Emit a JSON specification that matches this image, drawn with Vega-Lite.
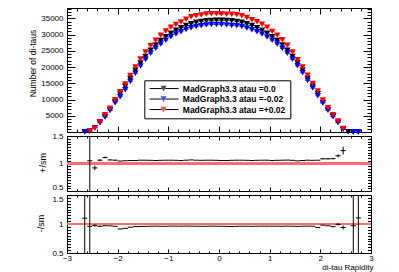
{
  "$schema": "https://vega.github.io/schema/vega-lite/v6.json",
  "background": "white",
  "padding": {"left": 27, "top": 7, "right": 2, "bottom": 2},
  "bounds": "flush",
  "spacing": 4,
  "config": {
    "view": {"stroke": "black", "strokeWidth": 1},
    "axis": {"domain": false, "grid": false, "labelFont": "Liberation Sans", "labelFontSize": 8, "labelColor": "#000", "tickColor": "#000", "tickWidth": 1, "titleFont": "Liberation Sans", "titleFontWeight": "normal", "titleColor": "#000", "titleFontSize": 9, "labelFlush": false, "labelOverlap": false}
  },
  "resolve": {"scale": {"color": "independent", "shape": "independent"}},
  "datasets": {
    "counts": [
      {"x":-2.65,"s":"0.0","n":40},{"x":-2.55,"s":"0.0","n":300},{"x":-2.45,"s":"0.0","n":1350},{"x":-2.35,"s":"0.0","n":2980},{"x":-2.25,"s":"0.0","n":4800},{"x":-2.15,"s":"0.0","n":6850},{"x":-2.05,"s":"0.0","n":9400},{"x":-1.95,"s":"0.0","n":11900},{"x":-1.85,"s":"0.0","n":14100},{"x":-1.75,"s":"0.0","n":16500},{"x":-1.65,"s":"0.0","n":19000},{"x":-1.55,"s":"0.0","n":21250},{"x":-1.45,"s":"0.0","n":23300},{"x":-1.35,"s":"0.0","n":25200},{"x":-1.25,"s":"0.0","n":26800},{"x":-1.15,"s":"0.0","n":28200},{"x":-1.05,"s":"0.0","n":29400},{"x":-0.95,"s":"0.0","n":30450},{"x":-0.85,"s":"0.0","n":31350},{"x":-0.75,"s":"0.0","n":32150},{"x":-0.65,"s":"0.0","n":32800},{"x":-0.55,"s":"0.0","n":33350},{"x":-0.45,"s":"0.0","n":33800},{"x":-0.35,"s":"0.0","n":34100},{"x":-0.25,"s":"0.0","n":34300},{"x":-0.15,"s":"0.0","n":34400},{"x":-0.05,"s":"0.0","n":34450},{"x":0.05,"s":"0.0","n":34450},{"x":0.15,"s":"0.0","n":34400},{"x":0.25,"s":"0.0","n":34300},{"x":0.35,"s":"0.0","n":34100},{"x":0.45,"s":"0.0","n":33800},{"x":0.55,"s":"0.0","n":33350},{"x":0.65,"s":"0.0","n":32800},{"x":0.75,"s":"0.0","n":32150},{"x":0.85,"s":"0.0","n":31350},{"x":0.95,"s":"0.0","n":30450},{"x":1.05,"s":"0.0","n":29400},{"x":1.15,"s":"0.0","n":28200},{"x":1.25,"s":"0.0","n":26800},{"x":1.35,"s":"0.0","n":25200},{"x":1.45,"s":"0.0","n":23300},{"x":1.55,"s":"0.0","n":21250},{"x":1.65,"s":"0.0","n":19000},{"x":1.75,"s":"0.0","n":16500},{"x":1.85,"s":"0.0","n":14100},{"x":1.95,"s":"0.0","n":11900},{"x":2.05,"s":"0.0","n":9100},{"x":2.15,"s":"0.0","n":6900},{"x":2.25,"s":"0.0","n":4900},{"x":2.35,"s":"0.0","n":2950},{"x":2.45,"s":"0.0","n":900},{"x":2.55,"s":"0.0","n":100},{"x":2.65,"s":"0.0","n":20},{"x":2.75,"s":"0.0","n":5},
      {"x":-2.65,"s":"-0.02","n":44},{"x":-2.55,"s":"-0.02","n":288},{"x":-2.45,"s":"-0.02","n":1316},{"x":-2.35,"s":"-0.02","n":2861},{"x":-2.25,"s":"-0.02","n":4656},{"x":-2.15,"s":"-0.02","n":6631},{"x":-2.05,"s":"-0.02","n":9024},{"x":-1.95,"s":"-0.02","n":10889},{"x":-1.85,"s":"-0.02","n":13043},{"x":-1.75,"s":"-0.02","n":15593},{"x":-1.65,"s":"-0.02","n":18145},{"x":-1.55,"s":"-0.02","n":20358},{"x":-1.45,"s":"-0.02","n":22368},{"x":-1.35,"s":"-0.02","n":24242},{"x":-1.25,"s":"-0.02","n":25808},{"x":-1.15,"s":"-0.02","n":27100},{"x":-1.05,"s":"-0.02","n":28283},{"x":-0.95,"s":"-0.02","n":29354},{"x":-0.85,"s":"-0.02","n":30190},{"x":-0.75,"s":"-0.02","n":30928},{"x":-0.65,"s":"-0.02","n":31619},{"x":-0.55,"s":"-0.02","n":32116},{"x":-0.45,"s":"-0.02","n":32516},{"x":-0.35,"s":"-0.02","n":32770},{"x":-0.25,"s":"-0.02","n":32997},{"x":-0.15,"s":"-0.02","n":33127},{"x":-0.05,"s":"-0.02","n":33141},{"x":0.05,"s":"-0.02","n":33106},{"x":0.15,"s":"-0.02","n":33024},{"x":0.25,"s":"-0.02","n":32859},{"x":0.35,"s":"-0.02","n":32736},{"x":0.45,"s":"-0.02","n":32516},{"x":0.55,"s":"-0.02","n":32083},{"x":0.65,"s":"-0.02","n":31521},{"x":0.75,"s":"-0.02","n":30928},{"x":0.85,"s":"-0.02","n":30190},{"x":0.95,"s":"-0.02","n":29293},{"x":1.05,"s":"-0.02","n":28312},{"x":1.15,"s":"-0.02","n":27128},{"x":1.25,"s":"-0.02","n":25755},{"x":1.35,"s":"-0.02","n":24268},{"x":1.45,"s":"-0.02","n":22415},{"x":1.55,"s":"-0.02","n":20400},{"x":1.65,"s":"-0.02","n":18278},{"x":1.75,"s":"-0.02","n":15890},{"x":1.85,"s":"-0.02","n":13564},{"x":1.95,"s":"-0.02","n":11186},{"x":2.05,"s":"-0.02","n":8918},{"x":2.15,"s":"-0.02","n":6693},{"x":2.25,"s":"-0.02","n":4680},{"x":2.35,"s":"-0.02","n":2935},{"x":2.45,"s":"-0.02","n":846},{"x":2.65,"s":"-0.02","n":19},{"x":2.75,"s":"-0.02","n":6},
      {"x":-2.55,"s":"+0.02","n":315},{"x":-2.45,"s":"+0.02","n":1242},{"x":-2.35,"s":"+0.02","n":3159},{"x":-2.25,"s":"+0.02","n":5328},{"x":-2.15,"s":"+0.02","n":7295},{"x":-2.05,"s":"+0.02","n":9964},{"x":-1.95,"s":"+0.02","n":12436},{"x":-1.85,"s":"+0.02","n":14805},{"x":-1.75,"s":"+0.02","n":17408},{"x":-1.65,"s":"+0.02","n":20045},{"x":-1.55,"s":"+0.02","n":22525},{"x":-1.45,"s":"+0.02","n":24698},{"x":-1.35,"s":"+0.02","n":26662},{"x":-1.25,"s":"+0.02","n":28274},{"x":-1.15,"s":"+0.02","n":29836},{"x":-1.05,"s":"+0.02","n":31164},{"x":-0.95,"s":"+0.02","n":32277},{"x":-0.85,"s":"+0.02","n":33168},{"x":-0.75,"s":"+0.02","n":33918},{"x":-0.65,"s":"+0.02","n":34768},{"x":-0.55,"s":"+0.02","n":35518},{"x":-0.45,"s":"+0.02","n":35828},{"x":-0.35,"s":"+0.02","n":36078},{"x":-0.25,"s":"+0.02","n":36358},{"x":-0.15,"s":"+0.02","n":36464},{"x":-0.05,"s":"+0.02","n":36448},{"x":0.05,"s":"+0.02","n":36345},{"x":0.15,"s":"+0.02","n":36292},{"x":0.25,"s":"+0.02","n":36289},{"x":0.35,"s":"+0.02","n":36146},{"x":0.45,"s":"+0.02","n":35828},{"x":0.55,"s":"+0.02","n":35284},{"x":0.65,"s":"+0.02","n":34604},{"x":0.75,"s":"+0.02","n":34015},{"x":0.85,"s":"+0.02","n":33231},{"x":0.95,"s":"+0.02","n":32277},{"x":1.05,"s":"+0.02","n":31017},{"x":1.15,"s":"+0.02","n":29836},{"x":1.25,"s":"+0.02","n":28408},{"x":1.35,"s":"+0.02","n":26762},{"x":1.45,"s":"+0.02","n":24651},{"x":1.55,"s":"+0.02","n":22270},{"x":1.65,"s":"+0.02","n":20045},{"x":1.75,"s":"+0.02","n":17490},{"x":1.85,"s":"+0.02","n":14918},{"x":1.95,"s":"+0.02","n":12614},{"x":2.05,"s":"+0.02","n":9874},{"x":2.15,"s":"+0.02","n":7487},{"x":2.25,"s":"+0.02","n":5331},{"x":2.35,"s":"+0.02","n":3363},{"x":2.45,"s":"+0.02","n":1112}
    ],
    "plus": [
      {"x":-2.55,"r":1.05,"lo":0,"hi":2},{"x":-2.45,"r":0.92,"lo":0.88,"hi":0.96},{"x":-2.35,"r":1.06,"lo":1.04,"hi":1.08},{"x":-2.25,"r":1.11,"lo":1.095,"hi":1.125},{"x":-2.15,"r":1.065,"lo":1.055,"hi":1.075},{"x":-2.05,"r":1.06,"lo":1.052,"hi":1.068},{"x":-1.95,"r":1.045},{"x":-1.85,"r":1.05},{"x":-1.75,"r":1.055},{"x":-1.65,"r":1.055},{"x":-1.55,"r":1.06},{"x":-1.45,"r":1.06},{"x":-1.35,"r":1.058},{"x":-1.25,"r":1.055},{"x":-1.15,"r":1.058},{"x":-1.05,"r":1.06},{"x":-0.95,"r":1.06},{"x":-0.85,"r":1.058},{"x":-0.75,"r":1.055},{"x":-0.65,"r":1.06},{"x":-0.55,"r":1.065},{"x":-0.45,"r":1.06},{"x":-0.35,"r":1.058},{"x":-0.25,"r":1.06},{"x":-0.15,"r":1.06},{"x":-0.05,"r":1.058},{"x":0.05,"r":1.055},{"x":0.15,"r":1.055},{"x":0.25,"r":1.058},{"x":0.35,"r":1.06},{"x":0.45,"r":1.06},{"x":0.55,"r":1.058},{"x":0.65,"r":1.055},{"x":0.75,"r":1.058},{"x":0.85,"r":1.06},{"x":0.95,"r":1.06},{"x":1.05,"r":1.055},{"x":1.15,"r":1.058},{"x":1.25,"r":1.06},{"x":1.35,"r":1.062},{"x":1.45,"r":1.058},{"x":1.55,"r":1.048},{"x":1.65,"r":1.055},{"x":1.75,"r":1.06},{"x":1.85,"r":1.058},{"x":1.95,"r":1.06},{"x":2.05,"r":1.085,"lo":1.077,"hi":1.093},{"x":2.15,"r":1.085,"lo":1.075,"hi":1.095},{"x":2.25,"r":1.088,"lo":1.076,"hi":1.1},{"x":2.35,"r":1.14,"lo":1.115,"hi":1.165},{"x":2.45,"r":1.235,"lo":1.165,"hi":1.305}
    ],
    "minus": [
      {"x":-2.65,"r":1.1,"lo":0,"hi":2},{"x":-2.55,"r":0.96,"lo":0,"hi":2},{"x":-2.45,"r":0.975,"lo":0.955,"hi":0.995},{"x":-2.35,"r":0.96,"lo":0.948,"hi":0.972},{"x":-2.25,"r":0.97},{"x":-2.15,"r":0.968},{"x":-2.05,"r":0.96},{"x":-1.95,"r":0.915},{"x":-1.85,"r":0.925},{"x":-1.75,"r":0.945},{"x":-1.65,"r":0.955},{"x":-1.55,"r":0.958},{"x":-1.45,"r":0.96},{"x":-1.35,"r":0.962},{"x":-1.25,"r":0.963},{"x":-1.15,"r":0.961},{"x":-1.05,"r":0.962},{"x":-0.95,"r":0.964},{"x":-0.85,"r":0.963},{"x":-0.75,"r":0.962},{"x":-0.65,"r":0.964},{"x":-0.55,"r":0.963},{"x":-0.45,"r":0.962},{"x":-0.35,"r":0.961},{"x":-0.25,"r":0.962},{"x":-0.15,"r":0.963},{"x":-0.05,"r":0.962},{"x":0.05,"r":0.961},{"x":0.15,"r":0.96},{"x":0.25,"r":0.958},{"x":0.35,"r":0.96},{"x":0.45,"r":0.962},{"x":0.55,"r":0.962},{"x":0.65,"r":0.961},{"x":0.75,"r":0.962},{"x":0.85,"r":0.963},{"x":0.95,"r":0.962},{"x":1.05,"r":0.963},{"x":1.15,"r":0.962},{"x":1.25,"r":0.961},{"x":1.35,"r":0.963},{"x":1.45,"r":0.962},{"x":1.55,"r":0.96},{"x":1.65,"r":0.962},{"x":1.75,"r":0.963},{"x":1.85,"r":0.962},{"x":1.95,"r":0.94},{"x":2.05,"r":0.98},{"x":2.15,"r":0.97},{"x":2.25,"r":0.955,"lo":0.945,"hi":0.965},{"x":2.35,"r":0.995,"lo":0.975,"hi":1.015},{"x":2.45,"r":0.94,"lo":0.905,"hi":0.975},{"x":2.65,"r":0.97,"lo":0,"hi":2},{"x":2.75,"r":1.105,"lo":0,"hi":2}
    ]
  },
  "vconcat": [
    {
      "width": 304, "height": 124,
      "data": {"name": "counts"},
      "resolve": {"axis": {"x": "independent", "y": "independent"}},
      "layer": [
        {"mark": {"type": "point", "opacity": 0},
         "encoding": {
           "x": {"field": "x", "type": "quantitative", "scale": {"domain": [-3, 3], "nice": false, "zero": false}, "axis": {"orient": "bottom", "values": [-3,-2,-1,0,1,2,3], "ticks": false, "labels": false, "title": null}},
           "y": {"field": "n", "type": "quantitative", "scale": {"domain": [0, 38224], "nice": false, "zero": false}, "axis": {"orient": "left", "values": [5000,10000,15000,20000,25000,30000,35000], "ticks": false, "labelPadding": 4, "format": "d", "title": "Number of di-taus", "titleFontSize": 8.5, "titleX": -35, "titleY": 55, "titleAlign": "center", "titleBaseline": "middle"}}
         }},
        {"mark": {"type": "point", "opacity": 0},
         "encoding": {
           "x": {"field": "x", "type": "quantitative", "scale": {"domain": [-3, 3], "nice": false, "zero": false}, "axis": {"orient": "bottom", "values": [-3,-2,-1,0,1,2,3], "tickSize": -6, "labels": false, "title": null}},
           "y": {"field": "n", "type": "quantitative", "scale": {"domain": [0, 38224], "nice": false, "zero": false}, "axis": {"orient": "left", "values": [0,5000,10000,15000,20000,25000,30000,35000], "tickSize": -8, "labels": false, "title": null}}
         }},
        {"mark": {"type": "point", "opacity": 0},
         "encoding": {
           "x": {"field": "x", "type": "quantitative", "scale": {"domain": [-3, 3], "nice": false, "zero": false}, "axis": {"orient": "bottom", "values": [-2.8,-2.6,-2.4,-2.2,-1.8,-1.6,-1.4,-1.2,-0.8,-0.6,-0.4,-0.2,0.2,0.4,0.6,0.8,1.2,1.4,1.6,1.8,2.2,2.4,2.6,2.8], "tickSize": -3, "labels": false, "title": null}},
           "y": {"field": "n", "type": "quantitative", "scale": {"domain": [0, 38224], "nice": false, "zero": false}, "axis": {"orient": "left", "values": [1000,2000,3000,4000,6000,7000,8000,9000,11000,12000,13000,14000,16000,17000,18000,19000,21000,22000,23000,24000,26000,27000,28000,29000,31000,32000,33000,34000,36000,37000,38000], "tickSize": -4, "labels": false, "title": null}}
         }},
        {"mark": {"type": "point", "opacity": 0},
         "encoding": {
           "x": {"field": "x", "type": "quantitative", "scale": {"domain": [-3, 3], "nice": false, "zero": false}, "axis": {"orient": "top", "values": [-3,-2,-1,0,1,2,3], "tickSize": -6, "labels": false, "title": null}},
           "y": {"field": "n", "type": "quantitative", "scale": {"domain": [0, 38224], "nice": false, "zero": false}, "axis": {"orient": "right", "values": [0,5000,10000,15000,20000,25000,30000,35000], "tickSize": -8, "labels": false, "title": null}}
         }},
        {"mark": {"type": "point", "opacity": 0},
         "encoding": {
           "x": {"field": "x", "type": "quantitative", "scale": {"domain": [-3, 3], "nice": false, "zero": false}, "axis": {"orient": "top", "values": [-2.8,-2.6,-2.4,-2.2,-1.8,-1.6,-1.4,-1.2,-0.8,-0.6,-0.4,-0.2,0.2,0.4,0.6,0.8,1.2,1.4,1.6,1.8,2.2,2.4,2.6,2.8], "tickSize": -3, "labels": false, "title": null}},
           "y": {"field": "n", "type": "quantitative", "scale": {"domain": [0, 38224], "nice": false, "zero": false}, "axis": {"orient": "right", "values": [1000,2000,3000,4000,6000,7000,8000,9000,11000,12000,13000,14000,16000,17000,18000,19000,21000,22000,23000,24000,26000,27000,28000,29000,31000,32000,33000,34000,36000,37000,38000], "tickSize": -4, "labels": false, "title": null}}
         }},
        {"mark": {"type": "tick", "orient": "horizontal", "size": 5, "thickness": 1},
         "encoding": {
           "x": {"field": "x", "type": "quantitative", "axis": null},
           "y": {"field": "n", "type": "quantitative", "axis": null},
           "color": {"field": "s", "type": "nominal", "scale": {"domain": ["0.0", "-0.02", "+0.02"], "range": ["#000000", "#0000ff", "#ff0000"]}}
         }},
        {"mark": {"type": "point", "shape": "triangle-down", "filled": true, "size": 40, "opacity": 1, "strokeWidth": 0},
         "encoding": {
           "x": {"field": "x", "type": "quantitative", "axis": null},
           "y": {"field": "n", "type": "quantitative", "axis": null},
           "color": {"field": "s", "type": "nominal", "scale": {"domain": ["0.0", "-0.02", "+0.02"], "range": ["#000000", "#0000ff", "#ff0000"]},
             "legend": {"orient": "none", "legendX": 77.3, "legendY": 72.3, "zindex": 0, "title": null, "labelExpr": "'MadGraph3.3 atau =' + datum.label", "labelFont": "Liberation Sans", "labelFontSize": 8.5, "labelFontWeight": "bold", "labelColor": "#000", "symbolType": "M2.67,-0.9H4.67L3.67,1Z", "symbolSize": 36, "symbolStrokeWidth": 0, "labelOffset": 26, "strokeColor": "#000", "fillColor": "#fff", "padding": 4, "rowPadding": 1.5,
               "encode": {"symbols": {"update": {"shape": {"value": "M2.67,-0.9H4.67L3.67,1Z"}, "strokeWidth": {"value": 0}, "opacity": {"value": 1}}}}}}
         }},
        {"mark": {"type": "point", "opacity": 0},
         "encoding": {
           "x": {"field": "x", "type": "quantitative", "axis": null},
           "y": {"field": "n", "type": "quantitative", "axis": null},
           "shape": {"field": "s", "type": "nominal", "scale": {"range": ["M-1,0H3.1M4.24,0H8.67", "M-1,0H3.1M4.24,0H8.67", "M-1,0H3.1M4.24,0H8.67"]},
             "legend": {"orient": "none", "legendX": 77.3, "legendY": 72.3, "zindex": 1, "title": null, "labelExpr": "' '", "labelFont": "Liberation Sans", "labelFontSize": 8.5, "labelFontWeight": "bold", "labelColor": "transparent", "symbolSize": 36, "symbolStrokeColor": "#000", "symbolFillColor": "transparent", "symbolStrokeWidth": 1, "labelOffset": 26, "padding": 4, "rowPadding": 1.5,
               "encode": {"symbols": {"update": {"stroke": {"value": "#000"}, "fill": {"value": "transparent"}, "strokeWidth": {"value": 1}, "opacity": {"value": 1}}}}}}
         }}
      ]
    },
    {
      "width": 304, "height": 55,
      "data": {"name": "plus"},
      "resolve": {"axis": {"x": "independent", "y": "independent"}},
      "layer": [
        {"mark": {"type": "point", "opacity": 0},
         "encoding": {
           "x": {"field": "x", "type": "quantitative", "scale": {"domain": [-3, 3], "nice": false, "zero": false}, "axis": {"orient": "bottom", "values": [-3,-2,-1,0,1,2,3], "ticks": false, "labels": false, "title": null}},
           "y": {"field": "r", "type": "quantitative", "scale": {"domain": [0.5, 1.5], "nice": false, "zero": false}, "axis": {"orient": "left", "values": [0.5, 1, 1.5], "ticks": false, "labelPadding": 4, "format": "~g", "labelBaseline": {"condition": {"test": "datum.value == 0.5", "value": "bottom"}, "value": "middle"}, "title": "+/sm", "titleX": -25, "titleY": 26.5, "titleAlign": "center", "titleBaseline": "middle"}}
         }},
        {"mark": {"type": "point", "opacity": 0},
         "encoding": {
           "x": {"field": "x", "type": "quantitative", "scale": {"domain": [-3, 3], "nice": false, "zero": false}, "axis": {"orient": "bottom", "values": [-3,-2,-1,0,1,2,3], "tickSize": -4, "labels": false, "title": null}},
           "y": {"field": "r", "type": "quantitative", "scale": {"domain": [0.5, 1.5], "nice": false, "zero": false}, "axis": {"orient": "left", "values": [0.5, 1, 1.5], "tickSize": -7, "labels": false, "title": null}}
         }},
        {"mark": {"type": "point", "opacity": 0},
         "encoding": {
           "x": {"field": "x", "type": "quantitative", "scale": {"domain": [-3, 3], "nice": false, "zero": false}, "axis": {"orient": "bottom", "values": [-2.8,-2.6,-2.4,-2.2,-1.8,-1.6,-1.4,-1.2,-0.8,-0.6,-0.4,-0.2,0.2,0.4,0.6,0.8,1.2,1.4,1.6,1.8,2.2,2.4,2.6,2.8], "tickSize": -2, "labels": false, "title": null}},
           "y": {"field": "r", "type": "quantitative", "scale": {"domain": [0.5, 1.5], "nice": false, "zero": false}, "axis": {"orient": "left", "values": [0.55,0.6,0.65,0.7,0.75,0.8,0.85,0.9,0.95,1.05,1.1,1.15,1.2,1.25,1.3,1.35,1.4,1.45], "tickSize": -3.5, "labels": false, "title": null}}
         }},
        {"mark": {"type": "point", "opacity": 0},
         "encoding": {
           "x": {"field": "x", "type": "quantitative", "scale": {"domain": [-3, 3], "nice": false, "zero": false}, "axis": {"orient": "top", "values": [-3,-2,-1,0,1,2,3], "tickSize": -4, "labels": false, "title": null}},
           "y": {"field": "r", "type": "quantitative", "scale": {"domain": [0.5, 1.5], "nice": false, "zero": false}, "axis": {"orient": "right", "values": [0.5, 1, 1.5], "tickSize": -7, "labels": false, "title": null}}
         }},
        {"mark": {"type": "point", "opacity": 0},
         "encoding": {
           "x": {"field": "x", "type": "quantitative", "scale": {"domain": [-3, 3], "nice": false, "zero": false}, "axis": {"orient": "top", "values": [-2.8,-2.6,-2.4,-2.2,-1.8,-1.6,-1.4,-1.2,-0.8,-0.6,-0.4,-0.2,0.2,0.4,0.6,0.8,1.2,1.4,1.6,1.8,2.2,2.4,2.6,2.8], "tickSize": -2, "labels": false, "title": null}},
           "y": {"field": "r", "type": "quantitative", "scale": {"domain": [0.5, 1.5], "nice": false, "zero": false}, "axis": {"orient": "right", "values": [0.55,0.6,0.65,0.7,0.75,0.8,0.85,0.9,0.95,1.05,1.1,1.15,1.2,1.25,1.3,1.35,1.4,1.45], "tickSize": -3.5, "labels": false, "title": null}}
         }},
        {"mark": {"type": "rule", "color": "#ff6e6e", "strokeWidth": 1.5},
         "encoding": {"y": {"datum": 1, "type": "quantitative", "axis": null}}},
        {"mark": {"type": "rule", "color": "#000", "strokeWidth": 1, "clip": true},
         "encoding": {
           "x": {"field": "x", "type": "quantitative", "axis": null},
           "y": {"field": "lo", "type": "quantitative", "axis": null},
           "y2": {"field": "hi"}
         }},
        {"mark": {"type": "tick", "orient": "horizontal", "size": 5.1, "thickness": 1, "color": "#000", "opacity": 1},
         "encoding": {
           "x": {"field": "x", "type": "quantitative", "axis": null},
           "y": {"field": "r", "type": "quantitative", "axis": null}
         }}
      ]
    },
    {
      "width": 304, "height": 58,
      "data": {"name": "minus"},
      "resolve": {"axis": {"x": "independent", "y": "independent"}},
      "layer": [
        {"mark": {"type": "point", "opacity": 0},
         "encoding": {
           "x": {"field": "x", "type": "quantitative", "scale": {"domain": [-3, 3], "nice": false, "zero": false}, "axis": {"orient": "bottom", "values": [-3,-2,-1,0,1,2,3], "ticks": false, "labelPadding": 1, "title": "di-tau Rapidity", "titleFontSize": 8, "titleX": 306, "titleY": 10, "titleAlign": "right", "titleBaseline": "top"}},
           "y": {"field": "r", "type": "quantitative", "scale": {"domain": [0.5, 1.5], "nice": false, "zero": false}, "axis": {"orient": "left", "values": [0.5, 1, 1.5], "ticks": false, "labelPadding": 4, "format": "~g", "labelBaseline": {"condition": {"test": "datum.value == 1.5", "value": "top"}, "value": "middle"}, "title": "-/sm", "titleX": -27, "titleY": 28, "titleAlign": "center", "titleBaseline": "middle"}}
         }},
        {"mark": {"type": "point", "opacity": 0},
         "encoding": {
           "x": {"field": "x", "type": "quantitative", "scale": {"domain": [-3, 3], "nice": false, "zero": false}, "axis": {"orient": "bottom", "values": [-3,-2,-1,0,1,2,3], "tickSize": -4, "labels": false, "title": null}},
           "y": {"field": "r", "type": "quantitative", "scale": {"domain": [0.5, 1.5], "nice": false, "zero": false}, "axis": {"orient": "left", "values": [0.5, 1, 1.5], "tickSize": -7, "labels": false, "title": null}}
         }},
        {"mark": {"type": "point", "opacity": 0},
         "encoding": {
           "x": {"field": "x", "type": "quantitative", "scale": {"domain": [-3, 3], "nice": false, "zero": false}, "axis": {"orient": "bottom", "values": [-2.8,-2.6,-2.4,-2.2,-1.8,-1.6,-1.4,-1.2,-0.8,-0.6,-0.4,-0.2,0.2,0.4,0.6,0.8,1.2,1.4,1.6,1.8,2.2,2.4,2.6,2.8], "tickSize": -2, "labels": false, "title": null}},
           "y": {"field": "r", "type": "quantitative", "scale": {"domain": [0.5, 1.5], "nice": false, "zero": false}, "axis": {"orient": "left", "values": [0.55,0.6,0.65,0.7,0.75,0.8,0.85,0.9,0.95,1.05,1.1,1.15,1.2,1.25,1.3,1.35,1.4,1.45], "tickSize": -3.5, "labels": false, "title": null}}
         }},
        {"mark": {"type": "point", "opacity": 0},
         "encoding": {
           "x": {"field": "x", "type": "quantitative", "scale": {"domain": [-3, 3], "nice": false, "zero": false}, "axis": {"orient": "top", "values": [-3,-2,-1,0,1,2,3], "tickSize": -4, "labels": false, "title": null}},
           "y": {"field": "r", "type": "quantitative", "scale": {"domain": [0.5, 1.5], "nice": false, "zero": false}, "axis": {"orient": "right", "values": [0.5, 1, 1.5], "tickSize": -7, "labels": false, "title": null}}
         }},
        {"mark": {"type": "point", "opacity": 0},
         "encoding": {
           "x": {"field": "x", "type": "quantitative", "scale": {"domain": [-3, 3], "nice": false, "zero": false}, "axis": {"orient": "top", "values": [-2.8,-2.6,-2.4,-2.2,-1.8,-1.6,-1.4,-1.2,-0.8,-0.6,-0.4,-0.2,0.2,0.4,0.6,0.8,1.2,1.4,1.6,1.8,2.2,2.4,2.6,2.8], "tickSize": -2, "labels": false, "title": null}},
           "y": {"field": "r", "type": "quantitative", "scale": {"domain": [0.5, 1.5], "nice": false, "zero": false}, "axis": {"orient": "right", "values": [0.55,0.6,0.65,0.7,0.75,0.8,0.85,0.9,0.95,1.05,1.1,1.15,1.2,1.25,1.3,1.35,1.4,1.45], "tickSize": -3.5, "labels": false, "title": null}}
         }},
        {"mark": {"type": "rule", "color": "#ff6e6e", "strokeWidth": 1.5},
         "encoding": {"y": {"datum": 1, "type": "quantitative", "axis": null}}},
        {"mark": {"type": "rule", "color": "#000", "strokeWidth": 1, "clip": true},
         "encoding": {
           "x": {"field": "x", "type": "quantitative", "axis": null},
           "y": {"field": "lo", "type": "quantitative", "axis": null},
           "y2": {"field": "hi"}
         }},
        {"mark": {"type": "tick", "orient": "horizontal", "size": 5.1, "thickness": 1, "color": "#000", "opacity": 1},
         "encoding": {
           "x": {"field": "x", "type": "quantitative", "axis": null},
           "y": {"field": "r", "type": "quantitative", "axis": null}
         }}
      ]
    }
  ]
}
